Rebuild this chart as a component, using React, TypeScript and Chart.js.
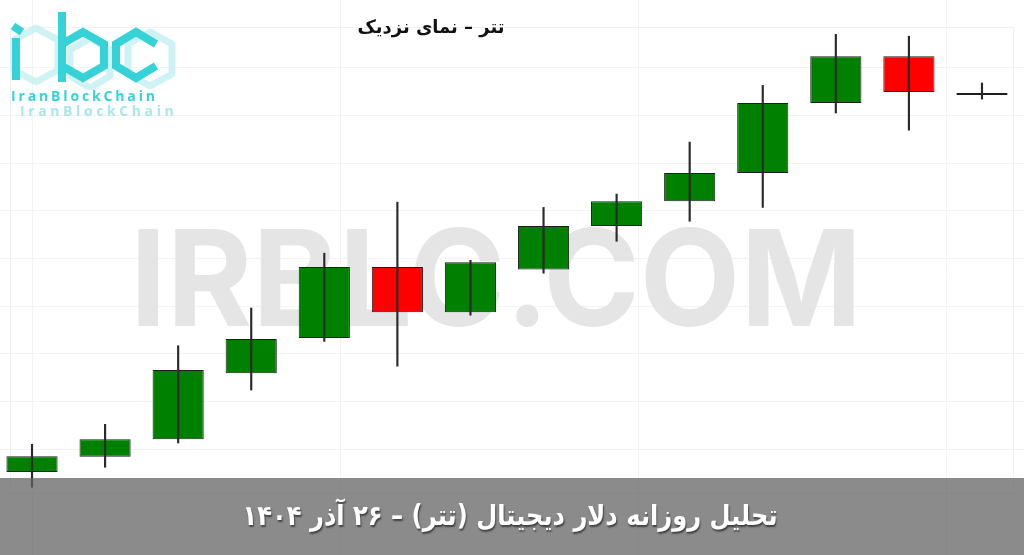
import React, { useEffect, useLayoutEffect, useRef } from "react";
import { Chart, registerables } from "chart.js";

Chart.register(...registerables);

// ---- data ----
const categories = ["1", "2", "3", "4", "5", "6", "7", "8", "9", "10", "11", "12", "13", "14"];
const opens = [121520, 121840, 122210, 123590, 124330, 125820, 124870, 125770, 126680, 127200, 127790, 129260, 130240, 129430];
const closes = [121850, 122210, 123660, 124310, 125820, 124870, 125920, 126680, 127200, 127790, 129260, 130240, 129490, 129470];
const highs = [122100, 122520, 124170, 124960, 126110, 127180, 125960, 127070, 127350, 128440, 129630, 130700, 130660, 129680];
const lows = [121200, 121620, 122130, 123240, 124260, 123740, 124810, 125690, 126360, 126780, 127070, 129050, 128690, 129340];
const yTicks = [122000, 123000, 124000, 125000, 126000, 127000, 128000, 129000, 130000];
const xGridTicks = [0, 4.215, 8.293, 12.508];

const TITLE = "تتر – نمای نزدیک";
const BANNER = "تحلیل روزانه دلار دیجیتال (تتر) – ۲۶ آذر ۱۴۰۴";
const WATERMARK = "IRBLC.COM";
const BRAND = "IranBlockChain";

const UP = "#008000";
const DOWN = "#ff0000";

const watermarkPlugin = {
  id: "watermark",
  beforeDatasetsDraw(chart: any) {
    const ctx = chart.ctx as CanvasRenderingContext2D;
    ctx.save();
    // faint frame
    ctx.strokeStyle = "#f1f1f1";
    ctx.lineWidth = 1;
    ctx.strokeRect(10.5, 27.5, 1003, 466);
    ctx.font = "700 134px Inter";
    const w = ctx.measureText(WATERMARK).width;
    ctx.translate(130, 326);
    ctx.scale(732 / w, 1);
    ctx.fillStyle = "#e5e5e5";
    ctx.textBaseline = "alphabetic";
    ctx.fillText(WATERMARK, 0, 0);
    ctx.restore();
  },
};

function FitText(props: { text: string; cx: number; top: number; width: number; style: React.CSSProperties }) {
  const ref = useRef<HTMLSpanElement>(null);
  useLayoutEffect(() => {
    const el = ref.current;
    if (!el) return;
    el.style.transform = "none";
    const w = el.getBoundingClientRect().width;
    el.style.transform = `translateX(-50%) scaleX(${props.width / w})`;
  }, []);
  return (
    <span
      ref={ref}
      dir="rtl"
      style={{
        position: "absolute",
        left: props.cx,
        top: props.top,
        whiteSpace: "nowrap",
        display: "inline-block",
        transformOrigin: "center",
        ...props.style,
      }}
    >
      {props.text}
    </span>
  );
}

function Logo() {
  const c = "#35d3d8";
  const l = "#c4f1f2";
  return (
    <div style={{ position: "absolute", left: 0, top: 0, width: 190, height: 125 }}>
      <svg width={190} height={90} style={{ position: "absolute", left: 0, top: 0 }}>
        <g fill="none" stroke={l} strokeWidth={7} strokeLinejoin="round" opacity={0.8}>
          <polygon points="14,40 36,28 58,40 58,70 36,82 14,70" />
          <polygon points="128,44 150,32 172,44 172,74 150,86 128,74" />
          <polygon points="70,50 90,38 110,50 110,76 90,88 70,76" />
        </g>
        <g fill="none" stroke={c} strokeWidth={8} strokeLinejoin="miter" strokeLinecap="butt">
          <line x1={13} y1={26} x2={22} y2={32} />
          <polyline points="16,38 16,80" />
          <polyline points="62,12 62,82" />
          <polygon points="62,44 83,32 104,44 104,66 83,78 62,66" />
          <polyline points="156,44 136,32 116,44 116,66 136,78 156,66" />
        </g>
      </svg>
      <div
        style={{
          position: "absolute",
          left: 11,
          top: 87,
          fontFamily: "'Open Sans', sans-serif",
          fontWeight: 700,
          fontSize: 14,
          letterSpacing: 2.85,
          color: c,
          lineHeight: "17px",
          whiteSpace: "nowrap",
        }}
      >
        {BRAND}
      </div>
      <div
        style={{
          position: "absolute",
          left: 20,
          top: 102,
          fontFamily: "'Open Sans', sans-serif",
          fontWeight: 700,
          fontSize: 14,
          letterSpacing: 3.6,
          color: "#a8e8eb",
          lineHeight: "17px",
          whiteSpace: "nowrap",
        }}
      >
        {BRAND}
      </div>
    </div>
  );
}

export default function App() {
  const canvasRef = useRef<HTMLCanvasElement>(null);

  useEffect(() => {
    const colors = categories.map((_, i) => (closes[i] >= opens[i] ? UP : DOWN));
    const chart = new Chart(canvasRef.current as HTMLCanvasElement, {
      type: "bar",
      data: {
        labels: categories,
        datasets: [
          {
            label: "wick",
            data: categories.map((_, i) => ({ x: i, y: [lows[i], highs[i]] })) as any,
            backgroundColor: "#2a2a2a",
            barThickness: 1.5,
            grouped: false,
            order: 0,
          },
          {
            label: "body",
            data: categories.map((_, i) => ({ x: i, y: [opens[i], closes[i]] })) as any,
            backgroundColor: colors,
            borderColor: "#1e1e1e",
            borderWidth: 1,
            borderSkipped: false,
            barPercentage: 0.7,
            categoryPercentage: 1,
            grouped: false,
            order: 1,
          },
        ],
      },
      options: {
        animation: false,
        responsive: false,
        devicePixelRatio: 1,
        layout: { padding: 0 },
        plugins: { legend: { display: false }, tooltip: { enabled: false }, title: { display: false } },
        scales: {
          x: {
            type: "linear",
            min: -0.438,
            max: 13.575,
            offset: false,
            grid: { offset: false, color: "#f3f3f3", drawTicks: false },
            border: { display: false },
            ticks: { display: false },
            afterBuildTicks: (scale: any) => {
              scale.ticks = xGridTicks.map((v) => ({ value: v }));
            },
          },
          y: {
            min: 119780,
            max: 131420,
            beginAtZero: false,
            grid: { color: "#f3f3f3", drawTicks: false },
            border: { display: false },
            ticks: { display: false },
            afterBuildTicks: (scale: any) => {
              scale.ticks = yTicks.map((v) => ({ value: v }));
            },
          },
        },
      } as any,
      plugins: [watermarkPlugin],
    });
    return () => chart.destroy();
  }, []);

  return (
    <div style={{ position: "absolute", left: 0, top: 0, width: 1024, height: 555, overflow: "hidden", background: "#fff" }}>
      <canvas
        ref={canvasRef}
        width={1024}
        height={555}
        style={{ position: "absolute", left: 0, top: 0, width: 1024, height: 555 }}
      />
      <Logo />
      <FitText
        text={TITLE}
        cx={431}
        top={15}
        width={147}
        style={{ fontFamily: "'DejaVu Sans', sans-serif", fontWeight: 700, fontSize: 18, color: "#111", lineHeight: "24px" }}
      />
      <div
        style={{
          position: "absolute",
          left: 0,
          top: 478,
          width: 1024,
          height: 77,
          background: "rgba(98,98,98,0.74)",
        }}
      >
        <FitText
          text={BANNER}
          cx={510}
          top={20}
          width={535}
          style={{
            fontFamily: "'DejaVu Sans', sans-serif",
            fontWeight: 700,
            fontSize: 28,
            color: "#fff",
            lineHeight: "36px",
            textShadow: "1px 2px 2px rgba(0,0,0,0.55)",
          }}
        />
      </div>
    </div>
  );
}
